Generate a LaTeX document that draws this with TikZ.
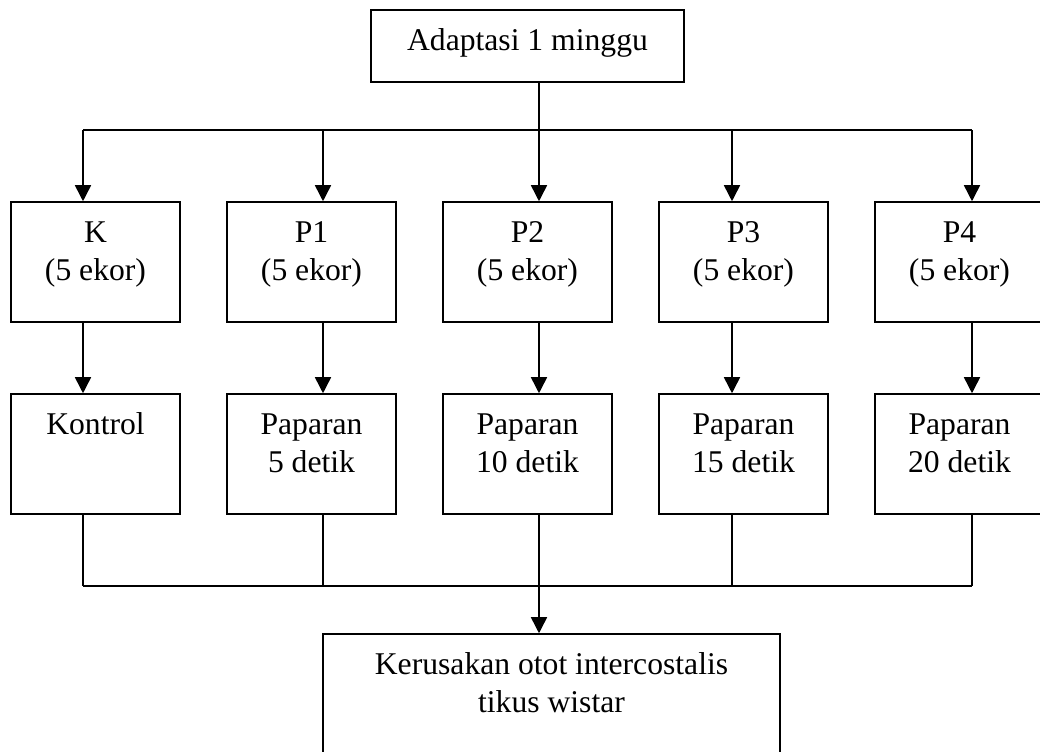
\documentclass[tikz,border=0pt]{standalone}
\usepackage{fontspec}
\setmainfont{Liberation Serif}
\usetikzlibrary{arrows.meta}
\newlength{\px}
\setlength{\px}{0.025cm}
\newcommand{\isikotak}[3]{\parbox[c][#2][t]{#1}{\centering\rule{0pt}{40\px}#3}}
\tikzset{
	kotak/.style={draw, line width=1.1pt, inner sep=0pt, font=\fontsize{22.5pt}{27.2pt}\selectfont},
	garis/.style={line width=1.1pt},
	panah/.style={line width=1.1pt, -{Triangle[length=0.4cm, width=0.4cm]}}
}

\begin{document}
\begin{tikzpicture}[x=0.025cm, y=-0.025cm]
				\useasboundingbox (0,0) rectangle (1040,751);
				% kotak
				\node[kotak] (adaptasi) at (527.5, 46) {\isikotak{313\px}{72\px}{Adaptasi 1 minggu}};
				\node[kotak] (K) at (95.5, 262) {\isikotak{169\px}{120\px}{K\\(5 ekor)}};
				\node[kotak] (P1) at (311.5, 262) {\isikotak{169\px}{120\px}{P1\\(5 ekor)}};
				\node[kotak] (P2) at (527.5, 262) {\isikotak{169\px}{120\px}{P2\\(5 ekor)}};
				\node[kotak] (P3) at (743.5, 262) {\isikotak{169\px}{120\px}{P3\\(5 ekor)}};
				\node[kotak] (P4) at (959.5, 262) {\isikotak{169\px}{120\px}{P4\\(5 ekor)}};
				\node[kotak] (kontrol) at (95.5, 454) {\isikotak{169\px}{120\px}{Kontrol}};
				\node[kotak] (paparan1) at (311.5, 454) {\isikotak{169\px}{120\px}{Paparan\\5 detik}};
				\node[kotak] (paparan2) at (527.5, 454) {\isikotak{169\px}{120\px}{Paparan\\10 detik}};
				\node[kotak] (paparan3) at (743.5, 454) {\isikotak{169\px}{120\px}{Paparan\\15 detik}};
				\node[kotak] (paparan4) at (959.5, 454) {\isikotak{169\px}{120\px}{Paparan\\20 detik}};
				\node[kotak] (kerusakan) at (551.5, 699.5) {\isikotak{457\px}{131\px}{Kerusakan otot intercostalis\\tikus wistar}};
				% titik cabang
				\coordinate (atas0) at (83, 130);
				\coordinate (atas1) at (323, 130);
				\coordinate (atas2) at (539, 130);
				\coordinate (atas3) at (732, 130);
				\coordinate (atas4) at (972, 130);
				\coordinate (bawah0) at (83, 586);
				\coordinate (bawah1) at (323, 586);
				\coordinate (bawah2) at (539, 586);
				\coordinate (bawah3) at (732, 586);
				\coordinate (bawah4) at (972, 586);
				% garis
				\draw[garis] (atas2 |- adaptasi.south) -- (atas2);
				\draw[garis] (atas0) -- (atas4);
				\draw[panah] (atas0) -- (atas0 |- K.north);
				\draw[panah] (atas1) -- (atas1 |- P1.north);
				\draw[panah] (atas2) -- (atas2 |- P2.north);
				\draw[panah] (atas3) -- (atas3 |- P3.north);
				\draw[panah] (atas4) -- (atas4 |- P4.north);
				\draw[panah] (atas0 |- K.south) -- (atas0 |- kontrol.north);
				\draw[panah] (atas1 |- P1.south) -- (atas1 |- paparan1.north);
				\draw[panah] (atas2 |- P2.south) -- (atas2 |- paparan2.north);
				\draw[panah] (atas3 |- P3.south) -- (atas3 |- paparan3.north);
				\draw[panah] (atas4 |- P4.south) -- (atas4 |- paparan4.north);
				\draw[garis] (bawah0 |- kontrol.south) -- (bawah0);
				\draw[garis] (bawah1 |- paparan1.south) -- (bawah1);
				\draw[garis] (bawah2 |- paparan2.south) -- (bawah2);
				\draw[garis] (bawah3 |- paparan3.south) -- (bawah3);
				\draw[garis] (bawah4 |- paparan4.south) -- (bawah4);
				\draw[garis] (bawah0) -- (bawah4);
				\draw[panah] (bawah2) -- (bawah2 |- kerusakan.north);
			\end{tikzpicture}
\end{document}
